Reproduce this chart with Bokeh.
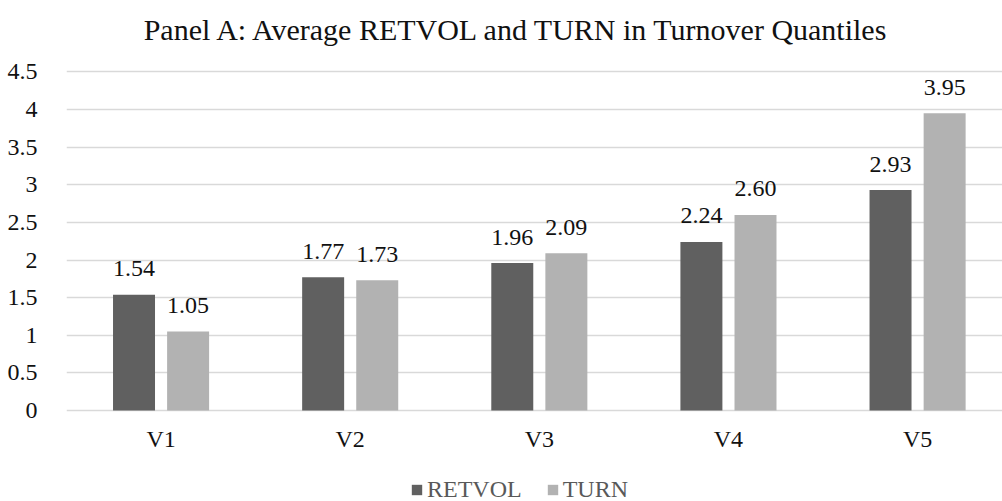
from bokeh.plotting import figure
from bokeh.models import (ColumnDataSource, Range1d, FixedTicker, CustomJSTickFormatter,
                          Legend, LegendItem)
from bokeh.embed import file_html
from bokeh.resources import INLINE
from bokeh.core.properties import value

categories = ["V1", "V2", "V3", "V4", "V5"]
retvol = [1.54, 1.77, 1.96, 2.24, 2.93]
turn = [1.05, 1.73, 2.09, 2.60, 3.95]
y_ticks = [0, 0.5, 1, 1.5, 2, 2.5, 3, 3.5, 4, 4.5]
title_text = ["Panel A: Average RETVOL and TURN in Turnover Quantiles"]
series_names = ["RETVOL", "TURN"]

FONT = "'Liberation Serif', 'Times New Roman', serif"
DARK = "#606060"
LIGHT = "#b2b2b2"
GRID = "#d9d9d9"
INK = "#111111"

centers = [i + 0.5 for i in range(len(categories))]
off = 0.143
bw = 0.222

src_r = ColumnDataSource(dict(x=[c - off for c in centers], top=retvol,
                              lab=[f"{v:.2f}" for v in retvol]))
src_t = ColumnDataSource(dict(x=[c + off for c in centers], top=turn,
                              lab=[f"{v:.2f}" for v in turn]))
src_c = ColumnDataSource(dict(x=centers, y=[0] * len(centers), lab=categories))

# frame covers the full height; y range extends above 4.5 and below 0 so
# the title, category labels and legend sit inside it
p = figure(width=1002, height=501, output_backend="svg", toolbar_location=None,
           x_range=Range1d(0, 4.949), y_range=Range1d(-1.209, 5.449),
           min_border_left=66, min_border_right=0, min_border_top=0, min_border_bottom=0)
p.outline_line_color = None
p.background_fill_color = "white"
p.border_fill_color = "white"
p.xaxis.visible = False
p.xgrid.visible = False

# grid (0 line acts as the category axis line)
p.ygrid.ticker = FixedTicker(ticks=y_ticks)
p.ygrid.grid_line_color = GRID
p.ygrid.grid_line_width = 1.5

r1 = p.vbar(x="x", top="top", width=bw, source=src_r, fill_color=DARK, line_color=None)
r2 = p.vbar(x="x", top="top", width=bw, source=src_t, fill_color=LIGHT, line_color=None)

for s in (src_r, src_t):
    p.text(x="x", y="top", text="lab", source=s, text_align="center",
           text_baseline="alphabetic", y_offset=-26, text_font=value(FONT),
           text_font_size="24px", text_color=INK)

# category labels
p.text(x="x", y="y", text="lab", source=src_c, text_align="center",
       text_baseline="alphabetic", y_offset=28, text_font=value(FONT),
       text_font_size="24px", text_color=INK)

# title
p.text(x=[2.386], y=[4.5], text=title_text, text_align="center",
       text_baseline="alphabetic", y_offset=-42, text_font=value(FONT),
       text_font_size="30px", text_color=INK)

# y axis
p.yaxis.ticker = FixedTicker(ticks=y_ticks)
p.yaxis.formatter = CustomJSTickFormatter(code="return String(tick)")
p.yaxis.axis_line_color = None
p.yaxis.major_tick_line_color = None
p.yaxis.minor_tick_line_color = None
p.yaxis.major_label_text_font = FONT
p.yaxis.major_label_text_font_size = "24px"
p.yaxis.major_label_text_color = INK
p.yaxis.major_label_standoff = 23

# legend
legend = Legend(items=[LegendItem(label=series_names[0], renderers=[r1]),
                       LegendItem(label=series_names[1], renderers=[r2])],
                orientation="horizontal", location=(344, -2),
                glyph_width=13, glyph_height=13, label_standoff=4, spacing=24,
                padding=0, margin=0, border_line_color=None, background_fill_alpha=0,
                label_text_font=FONT, label_text_font_size="24px",
                label_text_color="#595959")
p.add_layout(legend)

open("out.html", "w").write(file_html(p, INLINE))
